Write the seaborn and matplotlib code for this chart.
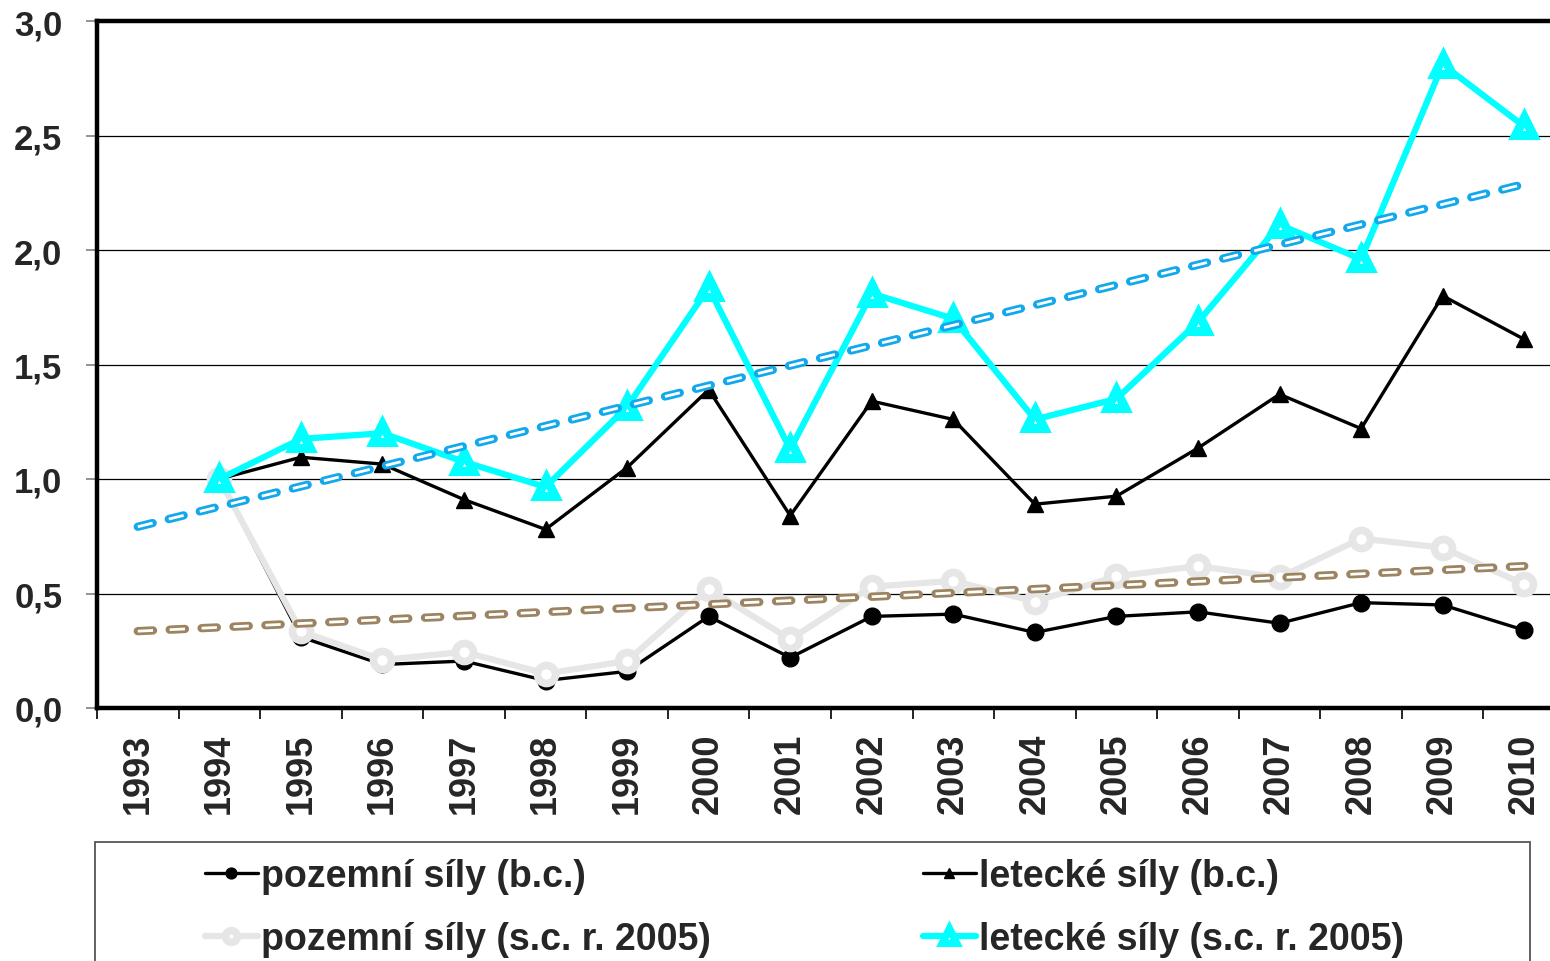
import numpy as np
import pandas as pd
import matplotlib
matplotlib.use('Agg')
import matplotlib.pyplot as plt
from matplotlib.patches import Rectangle
from matplotlib.ticker import FixedLocator, FixedFormatter
import seaborn as sns

# Data
years = list(range(1993, 2011))
data_years = list(range(1994, 2011))

pozemni_bc = [1.00, 0.31, 0.19, 0.205, 0.12, 0.16, 0.40, 0.22, 0.40, 0.41, 0.33, 0.40, 0.42, 0.37, 0.46, 0.45, 0.34]
letecke_bc = [1.00, 1.095, 1.065, 0.91, 0.78, 1.05, 1.39, 0.84, 1.34, 1.26, 0.89, 0.925, 1.135, 1.37, 1.22, 1.80, 1.61]
pozemni_sc = [1.00, 0.335, 0.21, 0.245, 0.15, 0.205, 0.52, 0.30, 0.53, 0.555, 0.465, 0.575, 0.62, 0.57, 0.74, 0.70, 0.54]
letecke_sc = [1.00, 1.175, 1.20, 1.075, 0.965, 1.315, 1.835, 1.13, 1.81, 1.70, 1.26, 1.35, 1.685, 2.11, 1.96, 2.81, 2.54]

labels = ['pozemní síly (b.c.)', 'letecké síly (b.c.)',
          'pozemní síly (s.c. r. 2005)', 'letecké síly (s.c. r. 2005)']

yticks = [0.0, 0.5, 1.0, 1.5, 2.0, 2.5, 3.0]
yticklabels = ['0,0', '0,5', '1,0', '1,5', '2,0', '2,5', '3,0']

sns.set_style('white')
plt.rcParams['font.family'] = ['Liberation Sans', 'DejaVu Sans']
plt.rcParams['font.weight'] = 'bold'
plt.rcParams['lines.scale_dashes'] = False

df = pd.DataFrame({
    'pos': [years.index(y) for y in data_years],
    'pozemni_bc': pozemni_bc,
    'letecke_bc': letecke_bc,
    'pozemni_sc': pozemni_sc,
    'letecke_sc': letecke_sc,
})

fig = plt.figure(figsize=(15.5, 9.62), dpi=100)
ax = fig.add_axes([97 / 1550, 1 - 709 / 962, (1565 - 97) / 1550, (709 - 22) / 962])

# grid lines
for v in yticks[1:-1]:
    ax.axhline(v, color='black', lw=0.9, zorder=0.5)

sns.lineplot(data=df, x='pos', y='pozemni_bc', ax=ax, color='black', lw=2.4,
             marker='o', markersize=12, markerfacecolor='black', markeredgecolor='black',
             markeredgewidth=1, label=labels[0], zorder=3)
sns.lineplot(data=df, x='pos', y='letecke_bc', ax=ax, color='black', lw=2.4,
             marker='^', markersize=12, markerfacecolor='black', markeredgecolor='black',
             markeredgewidth=1, label=labels[1], zorder=4)
sns.lineplot(data=df, x='pos', y='pozemni_sc', ax=ax, color='#E6E6E6', lw=4.5,
             marker='o', markersize=13, markerfacecolor='white', markeredgecolor='#E6E6E6',
             markeredgewidth=5.5, label=labels[2], zorder=3.5)
sns.lineplot(data=df, x='pos', y='letecke_sc', ax=ax, color='#00FFFF', lw=4.5,
             marker='^', markersize=13, markerfacecolor='white', markeredgecolor='#00FFFF',
             markeredgewidth=6.5, label=labels[3], zorder=5)

# linear trendlines, extended back one period
x_fit = np.array([years.index(y) for y in data_years])
x_trend = np.arange(len(years))
for series, col in [(pozemni_sc, '#9C8461'), (letecke_sc, '#12A8EC')]:
    k, q = np.polyfit(x_fit, series, 1)
    yt = k * x_trend + q
    ax.plot(x_trend, yt, color=col, lw=6.0, dashes=(11, 12), dash_capstyle='round', zorder=6)
    ax.plot(x_trend, yt, color='white', lw=2.0, dashes=(11, 12), dash_capstyle='butt', zorder=6.1)

handles, lbls = ax.get_legend_handles_labels()
ax.get_legend().remove()
order = [0, 2, 1, 3]  # row-major order in a two-column legend
handles = [handles[i] for i in order]
lbls = [lbls[i] for i in order]

ax.set_xlim(-0.5, len(years) - 0.5)
ax.set_ylim(0, 3.0)
ax.set_xlabel('')
ax.set_ylabel('')

ax.xaxis.set_major_locator(FixedLocator(list(range(len(years)))))
ax.xaxis.set_major_formatter(FixedFormatter([str(y) for y in years]))
ax.xaxis.set_minor_locator(FixedLocator([i - 0.5 for i in range(len(years) + 1)]))
ax.tick_params(axis='x', which='major', length=0, pad=18, labelsize=26, rotation=90)
ax.tick_params(axis='x', which='minor', length=8, width=1.2, color='black', bottom=True)
ax.set_yticks(yticks)
ax.set_yticklabels(yticklabels)
ax.tick_params(axis='y', length=8, width=1.2, color='#808080', pad=17, labelsize=25, left=True)
for t in ax.get_xticklabels() + ax.get_yticklabels():
    t.set_fontweight('bold')

for side in ['left', 'top', 'bottom']:
    ax.spines[side].set_linewidth(3.2)
    ax.spines[side].set_color('black')
ax.spines['right'].set_visible(False)

# legend box
fig.patches.append(Rectangle((95 / 1550, -0.05), (1530 - 95) / 1550, 0.05 + 1 - 843 / 962,
                             transform=fig.transFigure, fill=False, edgecolor='#555555',
                             lw=1.3, zorder=0))
leg = fig.legend(handles, lbls, loc='upper left', ncol=2, frameon=False,
                 bbox_to_anchor=(205 / 1550, 1 - 859 / 962),
                 prop={'size': 27, 'weight': 'bold'}, handlelength=1.4,
                 handletextpad=0.1, columnspacing=5.65, labelspacing=0.72,
                 borderpad=0, borderaxespad=0, markerscale=0.65)

fig.savefig('out.png', dpi=100)
